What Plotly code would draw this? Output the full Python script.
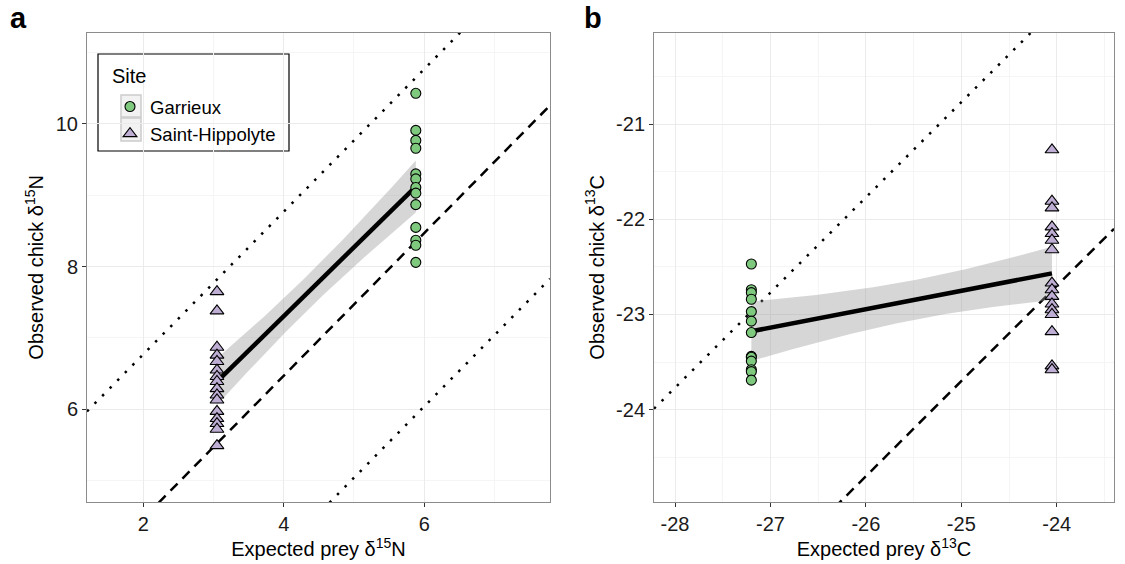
import numpy as np
import plotly.graph_objects as go

# ---------------- data ----------------
SITES = ["Garrieux", "Saint-Hippolyte"]
COLORS = {"Garrieux": "#7FC97F", "Saint-Hippolyte": "#BEAED4"}
SYMBOLS = {"Garrieux": "circle", "Saint-Hippolyte": "triangle-up"}

# Panel a: nitrogen
N_EXPECTED = {"Garrieux": 5.88, "Saint-Hippolyte": 3.05}
N_GARRIEUX = [10.43, 9.91, 9.77, 9.66, 9.30, 9.23, 9.11, 9.03, 8.87, 8.55, 8.37, 8.30, 8.06]
N_SAINTHIP = [7.65, 7.38, 6.87, 6.76, 6.67, 6.55, 6.46, 6.39, 6.29, 6.20, 6.13, 5.97,
              5.87, 5.80, 5.72, 5.49]
N_TDF_MEAN = 2.47
N_TDF_LOW = 0.04
N_TDF_HIGH = 4.77

# Panel b: carbon
C_EXPECTED = {"Garrieux": -27.2, "Saint-Hippolyte": -24.05}
C_GARRIEUX = [-22.47, -22.74, -22.77, -22.84, -22.97, -23.07, -23.19, -23.44, -23.45,
              -23.49, -23.58, -23.60, -23.69]
C_SAINTHIP = [-21.27, -21.81, -21.88, -22.08, -22.15, -22.22, -22.32, -22.67, -22.74,
              -22.81, -22.89, -22.95, -23.00, -23.18, -23.54, -23.58]
C_TDF_MEAN = 1.30
C_TDF_LOW = -1.63
C_TDF_HIGH = 4.23

T975 = 2.052  # t quantile, df = 27

A_XRANGE = [1.2, 7.79]
A_YRANGE = [4.70, 11.28]
B_XRANGE = [-28.22, -23.40]
B_YRANGE = [-24.97, -20.04]

A_XTICKS = [2, 4, 6]
A_XMINOR = [1, 3, 5, 7]
A_YTICKS = [6, 8, 10]
A_YMINOR = [5, 7, 9, 11]
B_XTICKS = [-28, -27, -26, -25, -24]
B_XMINOR = [-28.5, -27.5, -26.5, -25.5, -24.5, -23.5]
B_YTICKS = [-24, -23, -22, -21]
B_YMINOR = [-24.5, -23.5, -22.5, -21.5, -20.5]

FONT = "Liberation Sans, Arial, sans-serif"
W, H = 1125, 564
PX_L, PX_R = 87, 550          # panel a plot area (pixels)
PX2_L, PX2_R = 654, 1114      # panel b plot area
PY_T, PY_B = 32.7, 502


def lm_band(x, y, n_grid=80):
    x = np.asarray(x, float)
    y = np.asarray(y, float)
    n = len(x)
    xb = x.mean()
    sxx = ((x - xb) ** 2).sum()
    b1 = ((x - xb) * (y - y.mean())).sum() / sxx
    b0 = y.mean() - b1 * xb
    res = y - (b0 + b1 * x)
    s = np.sqrt((res ** 2).sum() / (n - 2))
    g = np.linspace(x.min(), x.max(), n_grid)
    fit = b0 + b1 * g
    se = s * np.sqrt(1.0 / n + (g - xb) ** 2 / sxx)
    return g, fit, fit - T975 * se, fit + T975 * se


fig = go.Figure()


def add_panel(xa, ya, expected, garr, sth, tdf, xrange, showlegend):
    xs = [expected["Garrieux"]] * len(garr) + [expected["Saint-Hippolyte"]] * len(sth)
    ys = list(garr) + list(sth)
    gx = np.array(xrange)
    for off, dash in [(tdf[0], "2.5px,8.3px"), (tdf[1], "10px,7px"), (tdf[2], "2.5px,8.3px")]:
        fig.add_trace(go.Scatter(x=gx, y=gx + off, mode="lines", xaxis=xa, yaxis=ya,
                                 line=dict(color="black", width=2.5, dash=dash),
                                 showlegend=False, hoverinfo="skip"))
    g, fit, lo, hi = lm_band(xs, ys)
    fig.add_trace(go.Scatter(x=np.concatenate([g, g[::-1]]), y=np.concatenate([hi, lo[::-1]]),
                             fill="toself", fillcolor="rgba(153,153,153,0.4)",
                             line=dict(width=0), mode="lines", xaxis=xa, yaxis=ya,
                             showlegend=False, hoverinfo="skip"))
    fig.add_trace(go.Scatter(x=g, y=fit, mode="lines", xaxis=xa, yaxis=ya,
                             line=dict(color="black", width=4.5),
                             showlegend=False, hoverinfo="skip"))
    for site, vals in zip(SITES, [garr, sth]):
        fig.add_trace(go.Scatter(
            x=[expected[site]] * len(vals), y=vals, mode="markers", name=site,
            xaxis=xa, yaxis=ya, showlegend=showlegend,
            marker=dict(symbol=SYMBOLS[site], color=COLORS[site],
                        size=10 if site == "Garrieux" else 12,
                        line=dict(color="black", width=1.1))))


add_panel("x", "y", N_EXPECTED, N_GARRIEUX, N_SAINTHIP,
          (N_TDF_HIGH, N_TDF_MEAN, N_TDF_LOW), A_XRANGE, True)
add_panel("x2", "y2", C_EXPECTED, C_GARRIEUX, C_SAINTHIP,
          (C_TDF_HIGH, C_TDF_MEAN, C_TDF_LOW), B_XRANGE, False)

ybot, ytop = (H - PY_B) / H, (H - PY_T) / H

axis_common = dict(showline=True, mirror=True, linecolor="#8c8c8c", linewidth=1,
                   ticks="outside", ticklen=4, tickcolor="#333333", tickwidth=1,
                   showgrid=True, gridcolor="#EBEBEB", gridwidth=1, zeroline=False,
                   tickmode="array",
                   tickfont=dict(family=FONT, size=20, color="#1a1a1a"),
                   title_font=dict(family=FONT, size=20, color="black"))


def minor(vals):
    return dict(tickmode="array", tickvals=vals, showgrid=True, gridcolor="#F5F5F5",
                ticks="")


def labels(vals):
    return [str(v) for v in vals]


# legend box helpers (pixel -> panel-a domain fractions)
def dx(px):
    return (px - PX_L) / (PX_R - PX_L)


def dy(py):
    return (PY_B - py) / (PY_B - PY_T)


shapes = [
    dict(type="rect", xref="x domain", yref="y domain", layer="below",
         x0=dx(98), x1=dx(289), y0=dy(151), y1=dy(54),
         fillcolor="white", line=dict(color="black", width=1.2)),
    dict(type="rect", xref="x domain", yref="y domain", layer="below",
         x0=dx(121), x1=dx(141), y0=dy(117), y1=dy(95),
         fillcolor="#F2F2F2", line=dict(color="#CCCCCC", width=1.5)),
    dict(type="rect", xref="x domain", yref="y domain", layer="below",
         x0=dx(121), x1=dx(141), y0=dy(141), y1=dy(118),
         fillcolor="#F2F2F2", line=dict(color="#CCCCCC", width=1.5)),
]

fig.update_layout(
    width=W, height=H, margin=dict(l=0, r=0, t=0, b=0),
    paper_bgcolor="white", plot_bgcolor="white",
    font=dict(family=FONT, size=20, color="black"),
    xaxis=dict(domain=[PX_L / W, PX_R / W], range=A_XRANGE,
               tickvals=A_XTICKS, ticktext=labels(A_XTICKS), minor=minor(A_XMINOR),
               title=dict(text="Expected prey δ<sup>15</sup>N", standoff=4), anchor="y",
               **axis_common),
    yaxis=dict(domain=[ybot, ytop], range=A_YRANGE,
               tickvals=A_YTICKS, ticktext=labels(A_YTICKS), minor=minor(A_YMINOR),
               title=dict(text="Observed chick δ<sup>15</sup>N", standoff=6), anchor="x",
               **axis_common),
    xaxis2=dict(domain=[PX2_L / W, PX2_R / W], range=B_XRANGE,
                tickvals=B_XTICKS, ticktext=labels(B_XTICKS), minor=minor(B_XMINOR),
                title=dict(text="Expected prey δ<sup>13</sup>C", standoff=4), anchor="y2",
                **axis_common),
    yaxis2=dict(domain=[ybot, ytop], range=B_YRANGE,
                tickvals=B_YTICKS, ticktext=labels(B_YTICKS), minor=minor(B_YMINOR),
                title=dict(text="Observed chick δ<sup>13</sup>C", standoff=6), anchor="x2",
                **axis_common),
    legend=dict(x=110 / W, y=(H - 88) / H, xanchor="left", yanchor="top",
                bgcolor="rgba(0,0,0,0)", borderwidth=0,
                font=dict(family=FONT, size=18.5), tracegroupgap=0),
    shapes=shapes,
    annotations=[
        dict(text="Site", x=110 / W, y=(H - 76) / H, xref="paper", yref="paper",
             xanchor="left", yanchor="middle", showarrow=False,
             font=dict(family=FONT, size=20, color="black")),
        dict(text="<b>a</b>", x=8 / W, y=1 - 0 / H, xref="paper", yref="paper",
             xanchor="left", yanchor="top", showarrow=False,
             font=dict(family=FONT, size=29, color="black")),
        dict(text="<b>b</b>", x=582 / W, y=1 - 0 / H, xref="paper", yref="paper",
             xanchor="left", yanchor="top", showarrow=False,
             font=dict(family=FONT, size=29, color="black")),
    ],
)

fig.write_html("out.html", config={"displayModeBar": False},
               post_script="document.body.style.margin='0';")
